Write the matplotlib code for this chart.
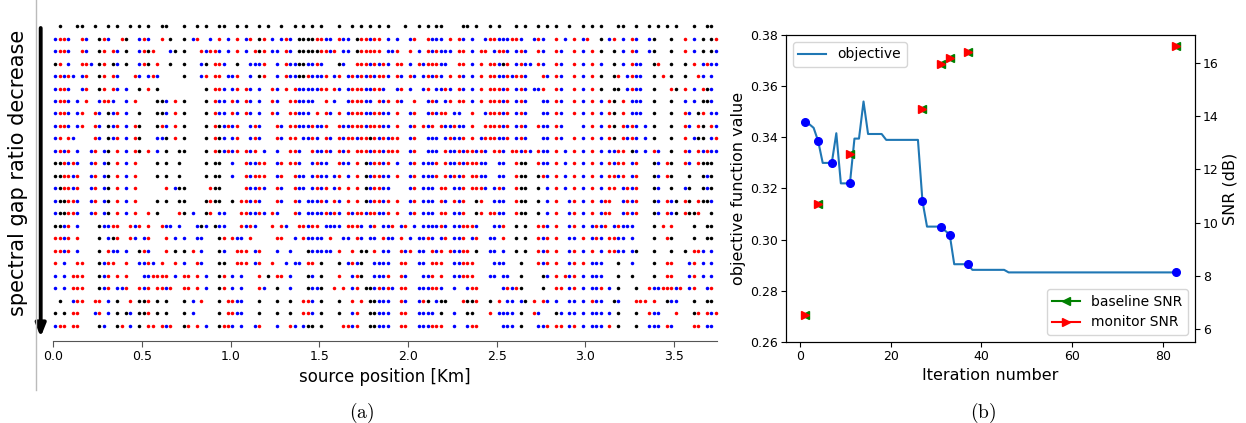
import numpy as np
import matplotlib.pyplot as plt
from matplotlib.lines import Line2D

plt.rcParams['mathtext.fontset'] = 'cm'

# ---------------------------------------------------------------
# panel (a): selected sources per row, token = <source index><colour>
# source index spacing 25 m, k = black, r = red, b = blue
# ---------------------------------------------------------------
cell_km = 0.025

rows = [
    "1k 5k 6k 9k 12k 14k 17k 19k 21k 24k 25k 29k 32k 34k 37k 38k 41k 43k 46k 48k 51k 54k 56k 58k 60k 64k 67k 69k 71k 73k 75k 79k 82k 84k 86k 87k 92k 93k 95k 98k 100k 104k 106k 109k 111k 113k 116k 119k 121k 123k 127k 128k 131k 134k 136k 138k 140k 144k 147k 148k",
    "0b 1r 2r 3b 6r 7b 10k 11r 12b 15r 16k 19b 20r 21b 24r 26k 29k 31b 32r 35b 37r 39b 41r 43b 44r 46k 47r 49b 51b 52r 53b 55k 56k 57k 58k 59r 60r 61b 62b 64r 65b 66b 68k 69r 70r 71b 72r 73r 75b 77b 80b 81r 84r 85b 86b 87b 89r 91r 92b 94b 97b 98r 99r 100b 101b 102b 103r 104r 105b 108b 109r 110b 113r 115b 117r 119b 120r 123k 125b 126r 128b 130r 131b 134b 135k 139k 142r 144b 146k 148k 149r",
    "0b 1r 2r 3b 6r 7b 10k 11r 13r 14b 16k 19b 20r 21k 22r 26b 27k 29k 33r 34b 35r 36r 37b 39b 41r 43b 45r 46k 47r 49b 50b 52r 53b 55k 56k 57k 58k 59k 60r 61r 62b 63r 65b 66b 68k 69r 70r 71r 72r 73r 75b 76b 77r 80r 82b 84r 85b 86r 87b 88b 89b 91r 92r 94b 96r 97r 99b 100r 101r 102b 104b 105r 106b 109r 110b 113r 114b 117r 119b 121r 123k 126k 128b 130r 131b 134b 135k 139k 142r 144b 146k 148k 149b",
    "0k 1r 3b 6r 7r 8b 10k 11r 13k 14b 16k 19b 20r 21k 23r 26k 29k 33b 34k 36r 37r 38b 41k 44b 45b 46b 47r 50b 52r 53b 54b 55k 56k 57b 58b 59r 60b 64k 65b 68r 69r 70r 71b 72r 73b 74r 75b 77r 78r 80b 82r 83b 84r 85r 86r 87b 88b 91r 92r 94b 96r 98r 99r 100b 101k 102r 104b 105r 106b 107b 109r 110b 113r 114b 117r 119b 121r 123b 126k 128b 130r 131b 132b 135k 136r 139k 142k 144r 146b 147r 148b 149b",
    "0b 1r 2b 3r 4b 6b 7r 10k 11r 13r 14b 18r 19b 21b 22r 23b 29k 33b 34r 36r 37r 39b 40b 41r 44b 46k 47r 50b 52r 53b 54b 55k 56k 57r 58b 59b 60b 61r 63b 64r 66b 67r 68b 69r 70b 71r 72b 73r 74r 75b 77r 78b 80r 81b 83b 84r 85b 86r 87b 89r 91r 92b 94b 96r 98r 99r 100b 101b 102r 103b 104r 105r 106b 110r 111b 113r 114b 117r 119b 121r 123k 126k 127r 129b 130r 131b 132b 135k 137r 139k 142k 145r 146b 148b",
    "0b 1r 2r 3b 6b 7r 10k 11r 13r 14b 16b 19k 21r 23k 34k 36r 37r 38b 40b 41r 43r 44b 46b 49r 50b 52r 54r 55b 56b 57b 58b 59b 60r 61r 63r 64b 66b 67r 68r 69r 70b 71b 72r 73r 74b 77b 78r 80b 83b 84r 86b 87b 88r 89b 91r 92b 94b 96r 98r 99r 100r 101b 102r 104b 105r 106b 108b 109b 110r 113r 114b 117r 119b 121r 123k 126k 127k 129b 130r 131b 132b 135k 139r 140k 142r 144b 146r 147k 148b",
    "0b 1r 2r 3b 5b 7r 10b 11r 12r 13b 16b 18r 23k 24k 25b 27r 29k 34k 36r 37b 38b 40r 41b 43r 44b 46b 49r 50b 53r 54r 55b 56b 57b 58b 61r 63b 66b 67r 68r 69r 70b 71b 73r 74b 75r 77r 78b 81r 84b 85r 86b 88b 89r 91r 92r 94b 96r 98r 99r 100r 101b 102r 104b 105r 106b 110b 111b 113r 114b 117r 119b 121r 123b 125r 126k 128r 130b 131b 132b 135k 139k 142b 144b 146k 147k 148b",
    "0b 1r 2r 3b 5b 6r 9r 10b 12k 13b 14r 16b 19k 23k 24k 25b 27r 29k 34k 36r 37b 38b 40r 41b 43r 44b 46b 49r 50b 53r 54r 55b 56b 57b 59r 61r 62b 64r 66b 67r 68r 69r 70b 71b 72r 73r 74b 75b 77r 80b 81r 84b 85r 86b 87r 88r 90b 91b 94r 97b 98r 99r 100r 101b 102r 104b 105r 106b 110b 111b 113r 114b 117r 119b 121r 123b 125r 126k 128r 130b 131b 132b 135k 139k 142r 143b 145k 146r 148b 149b",
    "0b 1r 2r 3b 5b 6r 9r 10b 12k 13b 14r 16b 18r 19k 23k 24r 25b 27r 29k 34k 36r 37k 38b 39r 40b 41r 44b 45r 46b 50r 51b 53r 54r 55b 56b 57b 58r 59b 60b 61r 64r 65b 66b 67r 68r 69r 70b 71r 72r 73r 74b 75b 77r 80b 81r 83r 84b 85r 87r 88b 89b 90r 91b 92b 94r 97r 98r 99r 100r 101b 102r 104b 105r 106b 109r 110b 111b 113r 114b 119b 121r 123b 125r 126k 128r 129b 130r 131b 133b 135k 139k 142r 143b 145r 146k 148r 149b",
    "0b 1r 3r 4b 9r 10b 12k 13b 14r 16b 18r 19k 23b 24b 25k 27r 29k 34k 36r 37k 38b 40b 41r 44b 45r 46b 50r 51b 53r 54r 56b 57b 58r 59b 61r 62b 64r 65b 66r 67r 68b 69r 70r 71k 72r 73b 74r 75b 76r 77r 80b 81r 84b 85b 86b 88b 89r 90b 91b 92r 94r 96b 97r 98r 99r 100b 101b 102r 104b 105r 106b 110b 111b 113r 114b 117r 119b 121r 123b 125r 126k 128r 129b 130r 131b 133b 135k 139k 142r 144b 145k 146k 148b 149r",
    "0b 1r 2b 3r 5b 8b 9r 11b 12k 14r 16b 18r 19k 21r 23b 25k 28k 29k 34k 36r 37k 38b 39r 40b 41r 43r 44b 45r 47b 50b 53r 54r 55b 58r 59b 60b 61r 62b 64r 65b 66r 68r 69r 70r 71b 72r 73r 74b 75r 76r 77r 80b 81r 84b 85b 86b 88r 89b 90b 91r 92b 93r 94r 95b 96r 97b 99r 100r 101b 103r 104r 105b 106r 107b 109r 110b 111b 113r 115b 117r 119b 121r 123b 125b 126b 127r 128r 130k 131b 133b 135r 136b 139k 142r 143b 145r 146b 147r 148b 149b",
    "0k 1k 2r 3b 4r 5b 8b 9r 11b 12k 14r 16b 18r 23k 25k 28k 34k 36k 37k 40b 43r 44b 45b 46r 47r 50b 51r 53r 54r 55b 58b 59r 60b 61b 64r 65b 66b 68r 70k 71b 72r 73r 74b 75r 77b 80b 81r 83b 84b 85b 86r 88r 89b 90b 91r 92b 93r 94r 95r 96b 97b 100b 101b 104r 105k 106k 109r 110b 111b 113r 115b 117r 119b 121r 123b 125r 126b 127r 128r 130b 131r 135k 136b 138r 139k 142r 143b 145r 146k 147k 148k",
    "0k 1k 2r 3r 4b 5r 8b 9r 11b 12k 14r 16b 18r 23k 25k 28k 34k 36k 37k 40b 43r 44b 45r 46r 47r 50b 51r 54r 55b 56b 58b 59r 60b 61b 63b 64r 66b 68r 70k 71b 72r 73r 74b 75b 77r 80b 81r 83b 84b 85b 86r 88r 89b 90r 91b 92r 94r 95r 96b 97b 100b 101b 104r 105k 106k 109k 110r 111b 113r 115b 117r 119b 121r 123b 125r 126r 127b 128r 130b 131r 135k 136b 138r 139k 143k 146k 147b 148k",
    "0b 1k 2r 3r 4b 5r 8b 9r 11b 12k 14r 16b 18r 25r 27b 28k 29k 35r 36k 37k 43r 44b 45b 46r 47b 50r 51b 54r 55b 56b 58b 59r 60b 61r 63b 64r 66r 68r 70k 71b 72r 73r 74b 75b 80b 81r 83b 84b 85b 87r 88r 90b 91b 92r 94r 95r 96r 97b 99b 100r 101b 104r 105k 106k 109k 111b 113r 115b 117r 119b 121r 123b 125r 126r 128b 129r 130b 131r 135k 136b 139k 142b 143k 146k 147b 148k",
    "0b 1k 2k 3r 4r 5b 8b 9r 11b 12k 14r 16b 18r 23k 25k 28k 29k 34k 35r 36k 37k 40k 42r 43r 44b 45r 46b 50r 51b 54r 55b 57b 58b 59b 60r 61b 63r 64b 66r 68r 70k 71b 72r 73r 74b 75r 77r 80b 81r 83b 84b 85b 87r 88b 90r 91b 92r 95k 96r 99b 100b 101b 104r 105k 106k 109k 111b 113r 116b 117r 119b 121r 123b 124r 125r 128b 129r 130b 131r 135k 136b 138r 139b 140k 142r 143k 145r 146k 147k 148b",
    "0b 1k 2k 3r 4r 5b 8b 9r 11b 12k 14r 16b 18r 21r 23k 28r 29k 31b 34k 35r 37b 38b 42r 43r 44b 45b 46r 47b 49r 50b 54r 55b 57b 58b 59b 60b 61r 62b 63r 64b 66r 67b 68r 69r 70b 71r 72r 73b 74b 75r 77r 80b 81r 83b 84b 85b 87r 88r 90b 91b 92r 95k 96r 98r 99r 100b 101b 104r 105k 106k 109k 111b 113r 116b 117r 119b 121r 123b 124r 125r 128b 129r 130b 131r 135k 136b 138r 139b 140k 142r 143k 144k 145r 148k",
    "0k 1k 2b 3r 5b 10k 11b 12b 13r 14r 17r 18b 19r 21r 24r 25b 26b 28b 32b 33k 34b 36k 37b 38b 42r 43b 44r 45b 49r 51r 52b 55r 56r 57b 58r 59r 61b 62b 63b 64b 66r 67r 68r 69b 71b 72r 74b 75b 76r 78b 79r 81b 83b 84b 85b 86b 87r 88b 90b 91b 92r 93r 94r 95b 99b 100b 101r 104k 106k 109r 110r 111b 113r 116b 117r 119b 121b 122r 123b 124r 126b 127r 128b 129b 130b 135k 137r 139r 144k 147k 148k",
    "0r 1r 2b 3r 5r 10k 12b 13k 14r 17r 18b 20b 21r 25r 27b 29b 32b 33b 37k 38r 40r 41b 42b 44r 50r 51r 54b 56r 57b 58b 59b 60b 62r 65b 66b 68r 69b 71b 72b 74r 75b 76b 78r 80b 82b 83b 84r 85b 87b 88r 90b 91b 92r 94b 95r 98b 99b 101r 104k 106k 109r 110b 111r 113r 116b 117b 119r 121b 122r 123b 125r 126r 127b 128b 130b 135k 138r 139k 144k 147k 148k",
    "0r 1r 2b 3r 5b 10k 12r 13b 14b 16b 19k 20r 21b 25r 27k 29k 31r 33b 37k 38b 41r 42r 43r 45b 46r 50b 53b 57k 58b 59b 60b 61b 62b 64r 67r 69k 70k 72r 74b 75b 78r 79b 80r 82b 83b 85r 86b 87r 89r 90b 91b 92r 93r 95k 98b 99b 101b 104k 106k 109r 110b 111r 113r 116b 117r 119b 121r 123b 125r 126r 127b 128b 130b 131k 135k 139k 142k 144r 145r 146b 148b",
    "0r 2b 5r 6r 10k 11b 12r 13r 16r 19b 20b 21r 22b 24r 27r 29b 32r 33b 37k 38k 41r 42r 43r 45b 46r 49r 52b 54b 55b 57r 58r 60k 64k 66b 67r 68b 69k 72b 73b 74b 75b 78r 79r 82b 83b 85r 86r 87r 90b 91b 92r 93r 94r 99b 100b 101b 105k 109r 110b 111r 113r 116b 117r 119r 121b 122b 123b 127k 130b 135k 138r 139r 143b 144r 146b 148b",
    "0b 2b 4r 5r 6r 10k 11b 12r 14r 16r 20b 21b 22r 23r 24r 25r 27b 29r 30r 32r 34b 37k 38r 40b 42b 46r 48k 50r 51r 53b 57k 58b 60k 64r 67b 68r 69k 72b 73b 74b 75r 78r 79b 83b 84b 85r 87r 90b 91b 92r 93r 94r 98b 99b 101b 102b 105k 110k 111b 113r 115r 116b 117r 119b 121b 122b 123b 127k 130k 135k 138r 139r 143b 144r 146b 148b",
    "0b 2b 4r 5r 6r 10k 11b 12r 14b 15b 16r 19r 20b 21r 23r 24r 25b 26r 29r 30r 32r 34b 37k 38r 40b 42b 46r 47b 50k 53b 57k 58b 59b 60k 63r 65r 67b 68r 70k 71k 72b 73r 74b 75r 76b 78r 79r 82b 83b 84b 85r 86r 87b 90b 93b 94r 95r 101b 102r 103b 104r 105k 110k 113r 114r 116b 117r 119b 121b 122b 123r 125b 127k 131k 134r 135b 136b 137r 138r 139r 140b 141r 143b 144r 147b 148r",
    "1k 4b 5r 6r 9r 10r 12b 14k 17r 19k 20k 21r 23k 25k 29k 31b 33r 37k 39r 40r 41b 42b 46k 50k 53k 56r 57r 58b 60k 64k 67r 69r 71k 72k 73b 74b 75b 78r 79b 82b 83r 84k 86b 87k 88k 92r 93k 94k 95r 98k 100r 102b 103b 105b 106k 108r 110r 111b 113b 116b 117b 119b 121r 122b 123b 126k 127b 131r 132r 133r 135r 138k 139b 140b 144k 147k 148k",
    "0k 2k 4r 5r 9b 10r 12b 14k 16k 17b 19k 20k 21r 23k 25k 29k 31b 37k 39r 40r 41b 42b 46k 50k 53k 56r 57r 58b 60k 64k 67b 68r 71k 72k 73b 74b 75b 78r 79r 82b 83b 84b 85b 87k 90b 93k 94k 98r 100b 101b 102b 103b 105k 108r 109b 113k 114b 116b 117b 119b 121b 122b 123b 125b 127k 131k 134r 135b 136b 140r 144k 145r 147r 148b 149r",
    "0b 1r 2r 4r 5r 10k 11b 14k 15r 17b 19k 21r 22r 24r 25b 26r 29k 30r 32r 34b 37k 38r 39r 40b 42b 45b 46r 50b 53r 54b 56b 57k 58k 60k 65r 66r 67b 68r 71k 72k 73b 74b 75b 78r 79r 82b 83b 84b 85r 86r 87r 90b 93b 94r 95r 101b 102b 103b 105k 109b 110b 111r 113r 114r 116b 117r 119b 121b 122b 123b 125r 127k 131k 134b 135b 136b 138r 139b 144r 145r 147b 148b",
]

dot_colors = {'k': 'black', 'r': 'red', 'b': 'blue'}

# ---------------------------------------------------------------
# panel (b): objective function and SNR per iteration
# ---------------------------------------------------------------
obj_iter = [1, 2, 3, 4, 5, 7, 8, 9, 11, 12, 13, 14, 15, 18, 19, 26, 27, 28, 31, 32,
            33, 34, 37, 38, 45, 46, 83]
obj_val = [0.3458, 0.3452, 0.3437, 0.3385, 0.3300, 0.3300, 0.3416, 0.3220, 0.3220,
           0.3395, 0.3395, 0.3540, 0.3413, 0.3413, 0.3390, 0.3390, 0.3150, 0.3051,
           0.3051, 0.3035, 0.3020, 0.2904, 0.2904, 0.2882, 0.2882, 0.2872, 0.2872]

sel_iter = [1, 4, 7, 11, 27, 31, 33, 37, 83]
sel_val = [0.3458, 0.3385, 0.3300, 0.3220, 0.3150, 0.3051, 0.3020, 0.2904, 0.2872]

snr_iter = [1, 4, 11, 27, 31, 33, 37, 83]
baseline_snr = [6.55, 10.69, 12.56, 14.25, 15.94, 16.16, 16.39, 16.63]
monitor_snr = [6.55, 10.69, 12.56, 14.25, 15.94, 16.16, 16.39, 16.63]

fig = plt.figure(figsize=(12.46, 4.23), dpi=100)

# ---------------- panel (a) ----------------
ax1 = fig.add_axes([0.0428, 0.1946, 0.5324, 0.7628])
for i, row in enumerate(rows):
    xs = {'k': [], 'r': [], 'b': []}
    for tok in row.split():
        xs[tok[-1]].append(int(tok[:-1]) * cell_km + 0.01)
    for key in ['k', 'r', 'b']:
        if xs[key]:
            ax1.scatter(xs[key], [i] * len(xs[key]), s=6.5, c=dot_colors[key],
                        linewidths=0, clip_on=False)

ax1.set_xlim(0, 3.74)
ax1.set_ylim(25.18, -0.64)
ax1.set_yticks([])
ax1.set_xticks(np.arange(0, 3.51, 0.5))
for side in ['top', 'right', 'left']:
    ax1.spines[side].set_visible(False)
ax1.spines['bottom'].set_color('#555555')
ax1.tick_params(axis='x', labelsize=9, length=4, color='#555555', pad=3)
ax1.set_xlabel("source position [Km]", fontsize=12, labelpad=3)

fig.text(0.0144, 0.591, "spectral gap ratio decrease", rotation=90,
         fontsize=15, ha='center', va='center')
fig.add_artist(Line2D([35.7 / 1246] * 2, [1, 1 - 390 / 423], color='#bbbbbb', lw=1))
ax1.annotate("", xy=(40.7 / 1246, 1 - 337 / 423), xytext=(40.7 / 1246, 1 - 28 / 423),
             xycoords='figure fraction', textcoords='figure fraction',
             arrowprops=dict(arrowstyle='-|>,head_width=0.2,head_length=0.5',
                             lw=2.8, color='black', mutation_scale=15,
                             shrinkA=0, shrinkB=0))

# ---------------- panel (b) ----------------
ax2 = fig.add_axes([0.6308, 0.1915, 0.3283, 0.7258])
ax2.plot(obj_iter, obj_val, color='C0', lw=1.5, label='objective')
ax2.plot(sel_iter, sel_val, 'bo', ms=5.5)
ax2.set_ylim(0.26, 0.38)
ax2.set_yticks(np.arange(0.26, 0.381, 0.02))
ax2.set_xticks([0, 20, 40, 60, 80])
ax2.tick_params(labelsize=9, length=3.5, pad=2)
ax2.set_xlabel("Iteration number", fontsize=11.5)
ax2.set_ylabel("objective function value", fontsize=11.5, labelpad=3)
ax2.legend(loc='upper left', fontsize=10)

ax3 = ax2.twinx()
for j in range(len(snr_iter)):
    ax3.plot([snr_iter[j]], [baseline_snr[j]], color='green', marker='<', ms=6,
             label='baseline SNR' if j == 0 else None)
for j in range(len(snr_iter)):
    ax3.plot([snr_iter[j]], [monitor_snr[j]], color='red', marker='>', ms=6,
             label='monitor SNR' if j == 0 else None)
ax3.set_ylim(5.52, 17.04)
ax3.set_yticks([6, 8, 10, 12, 14, 16])
ax3.tick_params(labelsize=9, length=3.5, pad=2)
ax3.set_ylabel("SNR (dB)", fontsize=11.5, labelpad=3)
ax3.legend(loc='lower right', fontsize=10)

fig.text(0.290, 0.024, r"$(\mathrm{a})$", fontsize=14, ha='center', va='center')
fig.text(0.789, 0.024, r"$(\mathrm{b})$", fontsize=14, ha='center', va='center')

fig.savefig("out.png", dpi=100)
